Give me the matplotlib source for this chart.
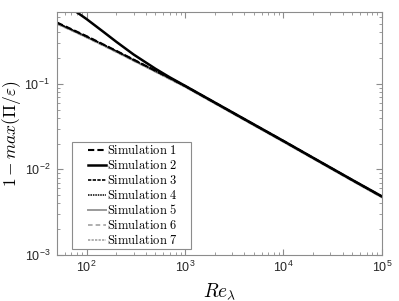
import numpy as np
import matplotlib
matplotlib.use("Agg")
import matplotlib.pyplot as plt
from matplotlib.legend_handler import HandlerLine2D
from matplotlib.patches import Rectangle

plt.rcParams['mathtext.fontset'] = 'cm'
plt.rcParams['font.family'] = ['Liberation Sans', 'DejaVu Sans']

re_lam = [50, 70, 100, 150, 200, 300, 500, 700, 1000, 2000, 5000, 1e4, 2e4, 5e4, 1e5]

sim1 = [0.520, 0.435, 0.360, 0.286, 0.243, 0.192, 0.142, 0.117, 0.0945, 0.0605, 0.0335, 0.0215, 0.01365, 0.00752, 0.00482]
sim2 = [1.00, 0.76, 0.57, 0.40, 0.31, 0.22, 0.150, 0.119, 0.0948, 0.0606, 0.0336, 0.0215, 0.01368, 0.00754, 0.00484]
sim3 = [0.516, 0.432, 0.358, 0.285, 0.242, 0.191, 0.143, 0.117, 0.0942, 0.0603, 0.0334, 0.0214, 0.01362, 0.00750, 0.00481]
sim4 = [0.512, 0.430, 0.356, 0.284, 0.241, 0.190, 0.141, 0.116, 0.0940, 0.0602, 0.0333, 0.0214, 0.01360, 0.00749, 0.00480]
sim5 = [0.505, 0.424, 0.350, 0.279, 0.237, 0.187, 0.139, 0.114, 0.0925, 0.0592, 0.0328, 0.0210, 0.01338, 0.00737, 0.00472]
sim6 = [0.500, 0.420, 0.347, 0.276, 0.235, 0.185, 0.138, 0.113, 0.0918, 0.0588, 0.0326, 0.0209, 0.01330, 0.00733, 0.00469]
sim7 = [0.508, 0.427, 0.352, 0.281, 0.239, 0.188, 0.140, 0.115, 0.0930, 0.0596, 0.0330, 0.0212, 0.01345, 0.00741, 0.00475]

labels = ['Simulation 1', 'Simulation 2', 'Simulation 3', 'Simulation 4',
          'Simulation 5', 'Simulation 6', 'Simulation 7']

fig = plt.figure(figsize=(3.99, 3.01), dpi=100)
ax = fig.add_axes([0.143, 0.153, 0.814, 0.807])

styles = [
    dict(color='black', ls=(0, (3, 1.5)), lw=1.5),
    dict(color='black', ls='-', lw=1.8),
    dict(color='black', ls=(0, (2, 0.8)), lw=1.2),
    dict(color='black', ls=(0, (1, 0.6)), lw=1.1),
    dict(color='#9a9a9a', ls='-', lw=1.4),
    dict(color='#9a9a9a', ls=(0, (3, 2)), lw=1.1),
    dict(color='#9a9a9a', ls=(0, (1.5, 0.8)), lw=1.1),
]
series = [sim1, sim2, sim3, sim4, sim5, sim6, sim7]
order = [4, 5, 6, 0, 2, 3, 1]
handles = [None] * 7
for i in order:
    h, = ax.loglog(re_lam, series[i], label=labels[i], **styles[i])
    handles[i] = h

ax.set_xlim(50, 1e5)
ax.set_ylim(1e-3, 0.69)

for s in ax.spines.values():
    s.set_color('#8c8c8c')
    s.set_linewidth(0.8)
ax.tick_params(which='both', direction='in', top=True, right=True,
               colors='#8c8c8c', labelcolor='#262626', labelsize=9)
ax.tick_params(which='major', length=4)
ax.tick_params(which='minor', length=2)
ax.tick_params(axis='y', which='major', pad=5)

ax.set_xlabel(r'$Re_\lambda$', fontsize=14, labelpad=4)
ax.set_ylabel(r'$1-max(\Pi/\varepsilon)$', fontsize=12.5)
ax.yaxis.set_label_coords(-0.105, 0.5)

# legend frame drawn separately (axes coordinates)
frame = Rectangle((0.046, 0.025), 0.366, 0.44, transform=ax.transAxes,
                  facecolor='white', edgecolor='#8c8c8c', lw=0.8, zorder=4)
ax.add_patch(frame)

hmap = {h: HandlerLine2D(xpad=0.0) for h in handles}
leg = ax.legend(handles=handles,
                labels=[r'$\mathrm{Simulation\ %d}$' % (k + 1) for k in range(7)],
                loc='center left', bbox_to_anchor=(0.094, 0.245), borderaxespad=0,
                fontsize=9, handlelength=1.5, handletextpad=0.05,
                labelspacing=0.08, borderpad=0.0, frameon=False,
                handler_map=hmap)
leg.set_zorder(5)

fig.savefig('out.png', dpi=100)
